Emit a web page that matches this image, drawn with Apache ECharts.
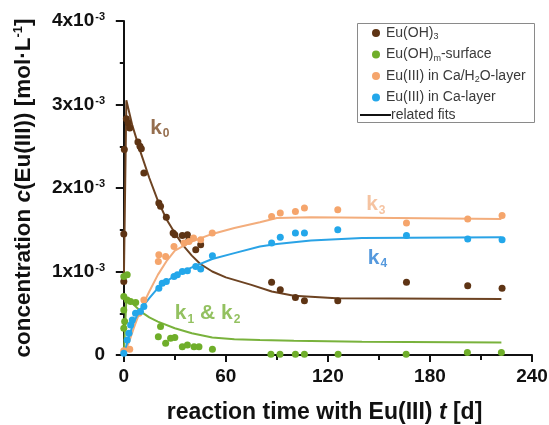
<!DOCTYPE html>
<html><head><meta charset="utf-8">
<script src="https://cdn.jsdelivr.net/npm/echarts@6/dist/echarts.min.js"></script>
<style>html,body{margin:0;padding:0;background:#fff}#c{width:549px;height:425px}</style>
</head><body><div id="c"></div><script>
// values in units of 10^-3 mol/L, time in days
const xTicks = [0, 60, 120, 180, 240];
const xMinorTicks = [30, 90, 150, 210];

const dOH3 = [0, 0, 0.3, 1.5, 2.5, 3.5, 8.3, 9.5, 10.3, 11.8, 20.6, 21.6, 25, 29, 30, 34.4, 37.4, 38.3, 42.3, 45.2, 86.9, 92, 100.9, 106.2, 125.8, 166.2, 202.2, 222.4];
const vOH3 = [0.88, 1.45, 2.46, 2.83, 2.78, 2.72, 2.55, 2.5, 2.47, 2.18, 1.82, 1.78, 1.65, 1.46, 1.44, 1.43, 1.44, 1.38, 1.26, 1.32, 0.87, 0.78, 0.69, 0.65, 0.65, 0.87, 0.83, 0.80];

const dSurf = [0, 0, 0, 0, 0.5, 2, 2, 4, 7, 20.3, 21.6, 24.6, 27.5, 30, 34.4, 37.4, 41.3, 44.2, 52.1, 86.5, 91.8, 100.9, 106.2, 126, 166, 202, 222];
const vSurf = [0.94, 0.70, 0.54, 0.32, 0.40, 0.96, 0.66, 0.64, 0.63, 0.22, 0.34, 0.14, 0.20, 0.21, 0.10, 0.12, 0.10, 0.10, 0.07, 0.01, 0.01, 0.01, 0.01, 0.01, 0.01, 0.03, 0.03];

const dCaH2O = [0, 3.5, 8.9, 11.8, 20.6, 20.3, 24.6, 29.5, 35.4, 38.3, 41, 45.2, 52, 86.9, 92, 100.9, 106.2, 125.8, 166.2, 202.2, 222.4];
const vCaH2O = [0.05, 0.07, 0.50, 0.66, 1.20, 1.12, 1.18, 1.30, 1.34, 1.36, 1.40, 1.38, 1.46, 1.66, 1.70, 1.72, 1.76, 1.74, 1.58, 1.63, 1.67];

const dCa = [0, 2, 3, 4, 5, 6.9, 9.8, 11.8, 20.6, 22.6, 25, 29.5, 31.5, 34.4, 37.4, 42.3, 45.2, 52.1, 86.9, 92, 100.9, 106.2, 125.8, 166.2, 202.2, 222.4];
const vCa = [0.02, 0.18, 0.26, 0.36, 0.42, 0.50, 0.52, 0.58, 0.80, 0.86, 0.88, 0.94, 0.96, 1.00, 1.01, 1.06, 1.03, 1.19, 1.34, 1.41, 1.46, 1.46, 1.50, 1.43, 1.39, 1.38];

// fitted curves
const fitOH3D = [0, 1.5, 5, 10, 15, 20, 25, 30, 35, 40, 45, 52, 60, 75, 87, 100, 125, 222];
const fitOH3V = [0.85, 3.05, 2.75, 2.42, 2.12, 1.85, 1.63, 1.46, 1.31, 1.19, 1.09, 1.0, 0.93, 0.84, 0.76, 0.71, 0.68, 0.67];
const fitSurfD = [0, 1.5, 5, 10, 15, 20, 30, 40, 52, 65, 80, 100, 140, 222];
const fitSurfV = [0, 0.66, 0.62, 0.52, 0.45, 0.40, 0.32, 0.26, 0.21, 0.19, 0.18, 0.17, 0.16, 0.15];
const fitCaH2OD = [0, 3, 6, 10, 15, 20, 25, 30, 40, 52, 65, 80, 90, 110, 160, 222];
const fitCaH2OV = [0, 0.15, 0.33, 0.55, 0.76, 0.96, 1.12, 1.25, 1.36, 1.45, 1.52, 1.59, 1.64, 1.65, 1.64, 1.63];
const fitCaD = [0, 3, 6, 10, 15, 20, 25, 30, 40, 52, 65, 80, 90, 110, 140, 222];
const fitCaV = [0, 0.22, 0.40, 0.55, 0.68, 0.80, 0.88, 0.95, 1.05, 1.15, 1.22, 1.30, 1.33, 1.37, 1.40, 1.41];

const seriesNames = ['Eu(OH)3', 'Eu(OH)m-surface', 'Eu(III) in Ca/H2O-layer', 'Eu(III) in Ca-layer'];
const legendLabels = ['Eu(OH){sub|3}', 'Eu(OH){sub|m}-surface', 'Eu(III) in Ca/H{sub|2}O-layer', 'Eu(III) in Ca-layer'];

// annotation labels: [day, value, text]
const annD = [15.5, 30, 142.5, 143.5];
const annV = [2.72, 0.50, 1.80, 1.16];
const annText = ['k{s|0}', 'k{s|1} & k{s|2}', 'k{s|3}', 'k{s|4}'];

const ptColors = ['#5e3414', '#6fae2a', '#f5a56c', '#23a7ea'];
const lineColors = ['#6d4322', '#79b23c', '#f3ad7c', '#2aa3e6'];
const annColors = ['#7b4a22', '#78b238', '#f2b48a', '#2b7fd4'];

const FF = '"Liberation Sans", Arial, sans-serif';
const zip = (a, b) => a.map((x, i) => [x, b[i]]);

const pts = [[dOH3, vOH3], [dSurf, vSurf], [dCaH2O, vCaH2O], [dCa, vCa]];
const fits = [[fitOH3D, fitOH3V], [fitSurfD, fitSurfV], [fitCaH2OD, fitCaH2OV], [fitCaD, fitCaV]];

const series = [];
fits.forEach((f, i) => series.push({
  type: 'line', name: 'fit' + i, data: zip(f[0], f[1]), showSymbol: false, symbol: 'none',
  lineStyle: { color: lineColors[i], width: 2 }, z: 2, silent: true
}));
pts.forEach((p, i) => series.push({
  type: 'scatter', name: seriesNames[i], data: zip(p[0], p[1]), symbolSize: 7,
  itemStyle: { color: ptColors[i], opacity: 1 }, z: 3
}));
series.push({ type: 'line', name: 'related fits', data: [], itemStyle: { color: '#111' }, lineStyle: { color: '#111' } });
series.push({
  type: 'scatter', name: 'ann', symbolSize: 0, z: 5, silent: true,
  data: annD.map((d, i) => ({
    value: [d, annV[i]],
    label: {
      show: true, position: 'right', distance: 0, formatter: annText[i],
      color: annColors[i], fontSize: 21, fontWeight: 'bold', fontFamily: FF,
      rich: { s: { fontSize: 12, fontWeight: 'bold', fontFamily: FF, color: annColors[i], verticalAlign: 'bottom', padding: [12, 0, 0, 1] } }
    }
  }))
});

const chart = echarts.init(document.getElementById('c'), null, { renderer: 'canvas' });
chart.setOption({
  animation: false,
  backgroundColor: '#fff',
  grid: { left: 117, right: 17, top: 21, bottom: 70, containLabel: false, outerBoundsMode: 'none' },
  xAxis: [{
    type: 'value', min: -4, max: 240,
    splitLine: { show: false },
    axisLine: { onZero: false, lineStyle: { color: '#111', width: 2 } },
    axisTick: { customValues: xTicks, length: 7, lineStyle: { color: '#111', width: 2 } },
    axisLabel: { customValues: xTicks, margin: 12, fontSize: 19, fontWeight: 'bold', color: '#111', fontFamily: FF },
    name: '{b|reaction time with Eu(III) }{i|t}{b| [d]}', nameLocation: 'middle', nameGap: 46,
    nameTextStyle: { rich: {
      b: { fontSize: 23, fontWeight: 'bold', color: '#111', fontFamily: FF },
      i: { fontSize: 23, fontWeight: 'bold', fontStyle: 'italic', color: '#111', fontFamily: FF }
    } }
  }, {
    type: 'value', min: -4, max: 240, position: 'bottom',
    splitLine: { show: false }, axisLine: { show: false },
    axisTick: { customValues: xMinorTicks, length: 5, lineStyle: { color: '#111', width: 2 } },
    axisLabel: { show: false }
  }],
  yAxis: {
    type: 'value', min: 0, max: 4, interval: 1,
    splitLine: { show: false },
    axisLine: { show: true, lineStyle: { color: '#111', width: 2 } },
    axisTick: { show: true, length: 8, lineStyle: { color: '#111', width: 2 } },
    minorTick: { show: true, splitNumber: 2, length: 4, lineStyle: { color: '#111', width: 2 } },
    axisLabel: {
      margin: 12, color: '#111',
      formatter: v => v === 0 ? '{n|0}' : '{n|' + v + 'x10}{s|-3}',
      rich: {
        n: { fontSize: 19, fontWeight: 'bold', color: '#111', fontFamily: FF },
        s: { fontSize: 11, fontWeight: 'bold', color: '#111', fontFamily: FF, verticalAlign: 'top', padding: [0, 0, 0, 1] }
      }
    },
    name: '{b|concentration }{i|c}{b|(Eu(III)) [mol·L}{s|-1}{b|]}', nameLocation: 'middle', nameGap: 82, nameRotate: 90,
    nameTextStyle: { rich: {
      b: { fontSize: 22.5, fontWeight: 'bold', color: '#111', fontFamily: FF },
      i: { fontSize: 22.5, fontWeight: 'bold', fontStyle: 'italic', color: '#111', fontFamily: FF },
      s: { fontSize: 13, fontWeight: 'bold', color: '#111', fontFamily: FF, verticalAlign: 'top' }
    } }
  },
  legend: [{
    orient: 'vertical', left: 367, top: 21, itemWidth: 8, itemHeight: 8, itemGap: 6, icon: 'circle',
    data: seriesNames, selectedMode: false,
    formatter: name => legendLabels[seriesNames.indexOf(name)],
    textStyle: { fontSize: 14, color: '#3a3a3a', fontFamily: FF, padding: [0, 0, 0, 1],
      rich: { sub: { fontSize: 9, color: '#3a3a3a', fontFamily: FF, verticalAlign: 'bottom', padding: [8, 0, 0, 0] } } }
  }, {
    orient: 'vertical', left: 355, top: 103, itemWidth: 31, itemHeight: 2, icon: 'rect',
    data: ['related fits'], selectedMode: false, itemGap: 0,
    textStyle: { fontSize: 14, color: '#3a3a3a', fontFamily: FF, padding: [0, 0, 0, -5] }
  }],
  graphic: [{
    type: 'rect', left: 355, top: 21, shape: { width: 177, height: 99 },
    style: { fill: 'none', stroke: '#8a8a8a', lineWidth: 1 }, z: 1
  }],
  series: series
});
</script></body></html>
